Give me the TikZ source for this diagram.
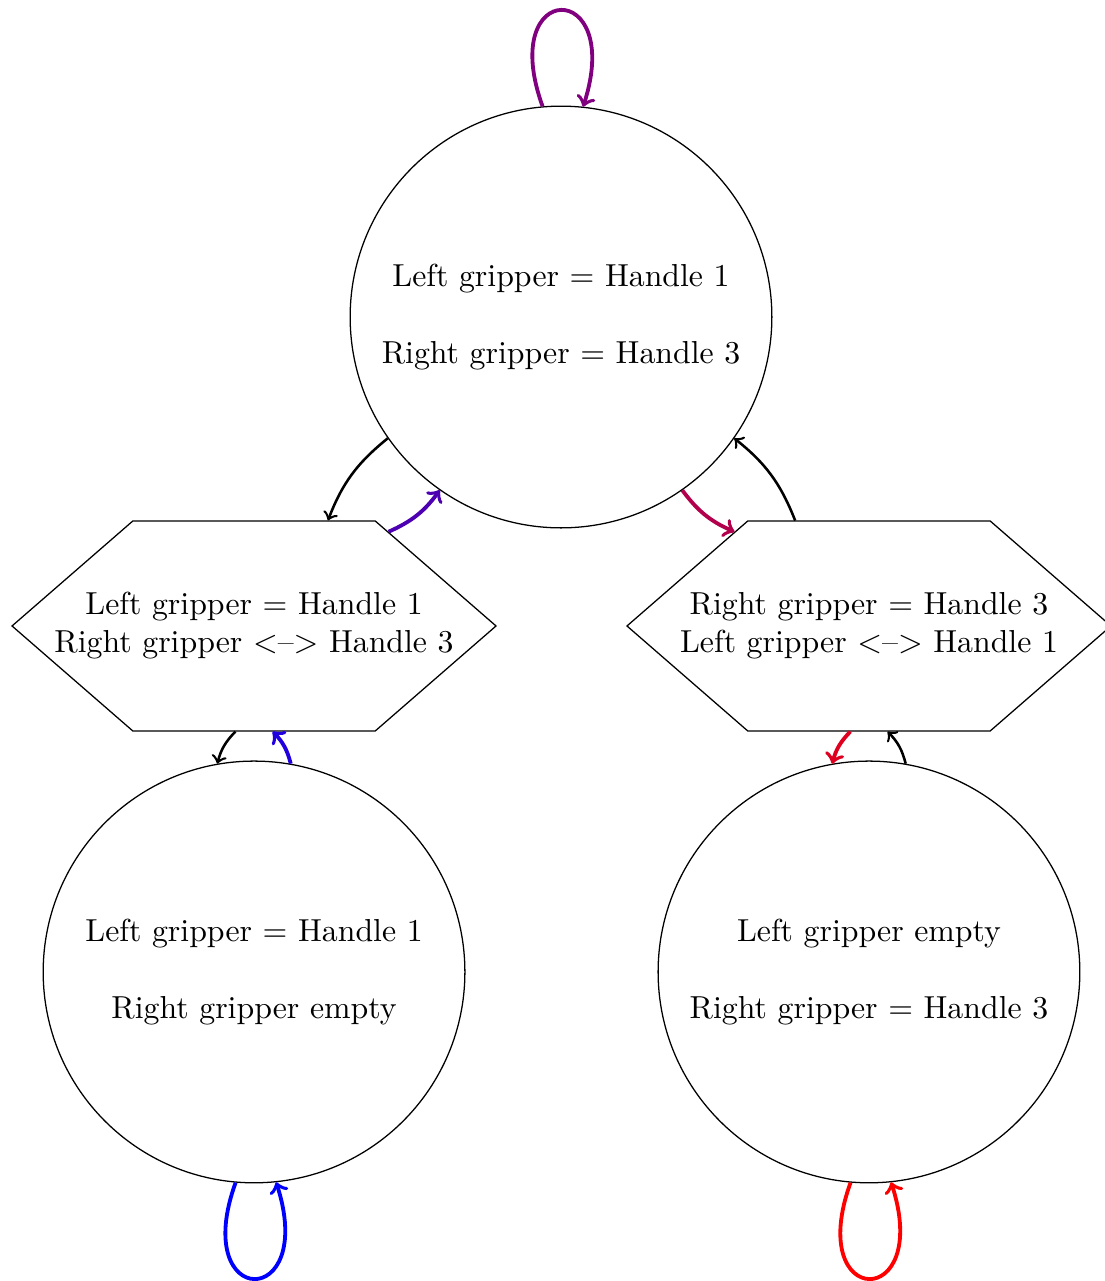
\documentclass[tikz,border=0pt]{standalone}
\usepackage{amsmath}
\usepackage{tikz}
\usetikzlibrary{automata, positioning, arrows, shapes.symbols}
\tikzset{
->, % makes the edges directed
every state/.style={draw, thin, minimum size=4.66cm, inner sep=0pt, align=center}, % gripper states
handover/.style={draw, thin, signal, signal to=west and east, signal pointer angle=82, minimum width=5.348cm, minimum height=2.32cm, inner sep=0pt}, % hand-over states
move/.style={thick, bend right=15}, % plain transitions
grip/.style={very thick, bend right=15}, % coloured transitions
}
% text of a hand-over state, left out of the shape's size
\newcommand{\handtext}[2]{\makebox[0pt]{\begin{tabular}{c}#1\\#2\end{tabular}}}

\begin{document}
\begin{tikzpicture}
        \useasboundingbox (0, 0) rectangle (12.21, -14.155);

        \node[state] (both) at (6.199, -3.503) {Left gripper = Handle 1\\[12pt]Right gripper = Handle 3};
        \node[handover] (swap-right) at (2.807, -6.917) {\handtext{Left gripper = Handle 1}{Right gripper <--> Handle 3}};
        \node[handover] (swap-left) at (9.602, -6.917) {\handtext{Right gripper = Handle 3}{Left gripper <--> Handle 1}};
        \node[state] (left-only) at (2.807, -10.740) {Left gripper = Handle 1\\[12pt]Right gripper empty};
        \node[state] (right-only) at (9.602, -10.740) {Left gripper empty\\[12pt]Right gripper = Handle 3};

        \draw[very thick, violet] (both.95) to[out=110, in=72, distance=1.5cm] (both.84);
        \draw[very thick, blue] (left-only.265) to[out=250, in=288, distance=1.5cm] (left-only.276);
        \draw[very thick, red] (right-only.265) to[out=250, in=288, distance=1.5cm] (right-only.276);

        \draw[move] (both.215) to (swap-right.55);
        \draw[grip, blue!40!violet] (swap-right.35) to (both.235);
        \draw[grip, red!40!violet] (both.305) to (swap-left.145);
        \draw[move] (swap-left.125) to (both.325);

        \draw[move] (swap-right.260) to (left-only.100);
        \draw[grip, blue!75!violet] (left-only.80) to (swap-right.280);
        \draw[grip, red!75!violet] (swap-left.260) to (right-only.100);
        \draw[move] (right-only.80) to (swap-left.280);
    \end{tikzpicture}
\end{document}
